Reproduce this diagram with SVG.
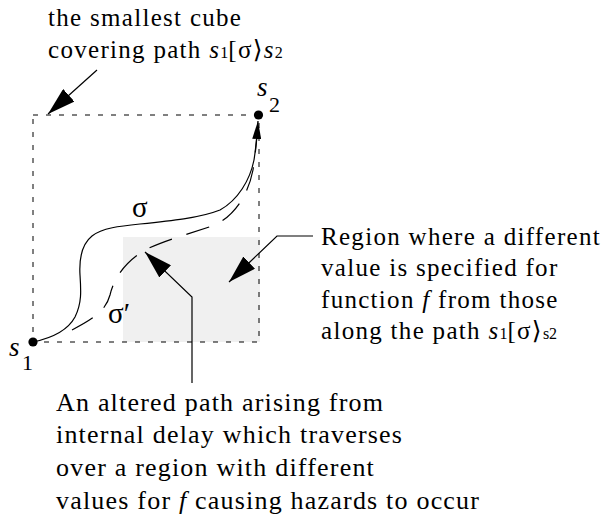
<svg xmlns="http://www.w3.org/2000/svg" width="602" height="519" viewBox="0 0 602 519">
<style>
.t{font-family:"Liberation Serif","DejaVu Serif",serif;font-size:25px;letter-spacing:1.3px;fill:#000}
.tb{font-size:26px;letter-spacing:1.2px}
.i{font-style:italic}
.sm{font-size:16px;letter-spacing:0}
.lbl{font-family:"Liberation Serif","DejaVu Serif",serif;fill:#000}
.ln{fill:none;stroke:#000;stroke-width:1.2}
</style>
<defs>
<marker id="ah" viewBox="0 -8.5 28 17" refX="28" refY="0" markerWidth="28" markerHeight="17" markerUnits="userSpaceOnUse" orient="auto">
<path d="M0,-8.5 L28,0 L0,8.5 z" fill="#000"/>
</marker>
<marker id="ahs" viewBox="0 -4.5 18 9" refX="18" refY="0" markerWidth="18" markerHeight="9" markerUnits="userSpaceOnUse" orient="auto">
<path d="M0,-4.5 L18,0 L0,4.5 z" fill="#000"/>
</marker>
</defs>
<g id="region">
<rect x="123" y="237" width="137" height="105" fill="#f0f0f0"/>
</g>
<g id="cube">
<rect x="33" y="115" width="226" height="227" fill="none" stroke="#000" stroke-width="1" stroke-dasharray="5 8"/>
</g>
<g id="connectors">
<path id="sigma" class="ln" d="M33,342 C52,338 68,330 75,317 C82,303 81,290 80,275 C79,258 82,244 92,236 C102,228 120,226 140,224 C170,221 200,218 220,210 C238,200 250,180 254,160 C256,148 257,135 258,121" marker-end="url(#ahs)"/>
<path id="sigma-prime" class="ln" stroke-dasharray="24 15" d="M72,330 C95,318 106,310 110,295 C114,278 125,262 145,250 C165,240 195,232 215,225 C235,215 248,195 253,170 C256,150 257,135 258,125"/>
<line class="ln" x1="97" y1="70" x2="48" y2="114" stroke-width="1" marker-end="url(#ah)"/>
<polyline class="ln" points="313,236 277,236 229,282" stroke-width="1" marker-end="url(#ah)"/>
<polyline class="ln" points="192,383 192,297 145,252" stroke-width="1" marker-end="url(#ah)"/>
</g>
<g id="s1">
<circle cx="33" cy="342" r="4.6" fill="#000"/>
<text class="lbl" x="9" y="356" font-size="27" font-style="italic">s</text>
<text class="lbl" x="22" y="370" font-size="22">1</text>
</g>
<g id="s2">
<circle cx="258.5" cy="115" r="4.6" fill="#000"/>
<text class="lbl" x="257" y="96" font-size="27" font-style="italic">s</text>
<text class="lbl" x="269" y="112" font-size="22">2</text>
</g>
<g id="sigma-label">
<text class="lbl" x="132" y="217" font-size="29">σ</text>
</g>
<g id="sigma-prime-label">
<text class="lbl" x="108" y="323" font-size="29">σ′</text>
</g>
<g id="cube-note">
<text class="t" x="48" y="26">the smallest cube</text>
<text class="t" x="48" y="58">covering path <tspan class="i">s</tspan><tspan class="sm">1</tspan>[σ⟩<tspan class="i">s</tspan><tspan class="sm">2</tspan></text>
</g>
<g id="region-note">
<text class="t" x="321" y="244.5">Region where a different</text>
<text class="t" x="321" y="276">value is specified for</text>
<text class="t" x="321" y="307.5">function <tspan class="i">f</tspan> from those</text>
<text class="t" x="321" y="339">along the path <tspan class="i">s</tspan><tspan class="sm">1</tspan>[σ⟩<tspan class="sm">s2</tspan></text>
</g>
<g id="path-note">
<text class="t tb" x="56" y="410.5">An altered path arising from</text>
<text class="t tb" x="56" y="443">internal delay which traverses</text>
<text class="t tb" x="56" y="476">over a region with different</text>
<text class="t tb" x="56" y="508.5">values for <tspan class="i">f</tspan> causing hazards to occur</text>
</g>
</svg>
